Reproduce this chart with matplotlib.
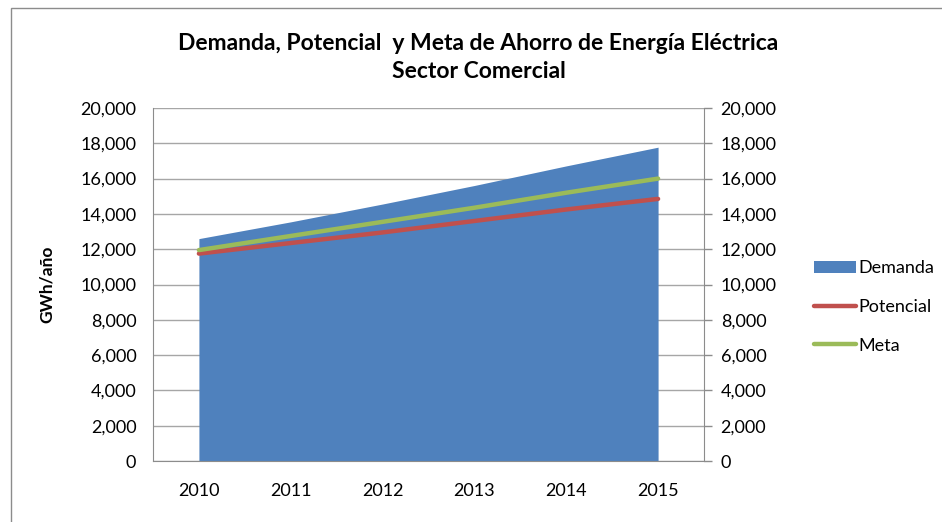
import matplotlib.pyplot as plt
from matplotlib.patches import Rectangle

# values (GWh/año)
years = ['2010', '2011', '2012', '2013', '2014', '2015']
demanda = [12600, 13550, 14560, 15610, 16720, 17780]
potencial = [11750, 12350, 12950, 13600, 14250, 14850]
meta = [11950, 12750, 13550, 14350, 15200, 16000]
y_ticks = [0, 2000, 4000, 6000, 8000, 10000, 12000, 14000, 16000, 18000, 20000]

plt.rcParams['font.family'] = ['Lato', 'DejaVu Sans']

fig = plt.figure(figsize=(9.42, 5.22), dpi=100)
ax = fig.add_axes([153 / 942, 1 - 461 / 522, (704 - 153) / 942, (461 - 108) / 522])

x = range(len(years))
ax.fill_between(x, 0, demanda, color='#4F81BD', linewidth=0, label='Demanda', zorder=2)
ax.plot(x, potencial, color='#C0504D', linewidth=3.2, label='Potencial', zorder=3,
        solid_capstyle='round')
ax.plot(x, meta, color='#9BBB59', linewidth=3.2, label='Meta', zorder=4,
        solid_capstyle='round')

ax.set_xlim(-0.5, len(years) - 0.5)
ax.set_ylim(0, 20000)
ax.set_xticks(list(x))
ax.set_xticklabels(years)
ax.set_yticks(y_ticks)
ax.set_yticklabels([f'{v:,}' for v in y_ticks])
ax.grid(axis='y', color='#A6A6A6', linewidth=1, zorder=0)
ax.set_axisbelow(True)
for s in ax.spines.values():
    s.set_color('#8C8C8C')
ax.spines['top'].set_visible(False)
ax.tick_params(axis='x', length=0, pad=16, labelsize=13)
ax.tick_params(axis='y', length=0, pad=12, labelsize=13)
ax.set_ylabel('GWh/año', fontsize=12.5, fontweight='bold', labelpad=18)

# secondary axis on the right with the same scale
ax2 = ax.twinx()
ax2.set_ylim(0, 20000)
ax2.set_yticks(y_ticks)
ax2.set_yticklabels([f'{v:,}' for v in y_ticks])
ax2.tick_params(axis='y', length=6, width=1, color='#8C8C8C', pad=6, labelsize=13)
for s in ax2.spines.values():
    s.set_visible(False)

fig.text(0.508, 1 - 43 / 522, 'Demanda, Potencial  y Meta de Ahorro de Energía Eléctrica',
         ha='center', va='center', fontsize=16.5, fontweight='bold')
fig.text(0.508, 1 - 71 / 522, 'Sector Comercial',
         ha='center', va='center', fontsize=16.5, fontweight='bold')

handles, labels = ax.get_legend_handles_labels()
fig.legend(handles, labels, loc='center left', bbox_to_anchor=(807 / 942, 1 - 307 / 522),
           frameon=False, fontsize=13, handlelength=2.3, labelspacing=1.25,
           handletextpad=0.15, borderaxespad=0)

# outer chart frame
fig.patches.append(Rectangle((11 / 942, -0.05), 1.1, 1 - 8 / 522 + 0.05,
                             transform=fig.transFigure, fill=False,
                             edgecolor='#8C8C8C', linewidth=1))

fig.savefig('out.png', dpi=100)
